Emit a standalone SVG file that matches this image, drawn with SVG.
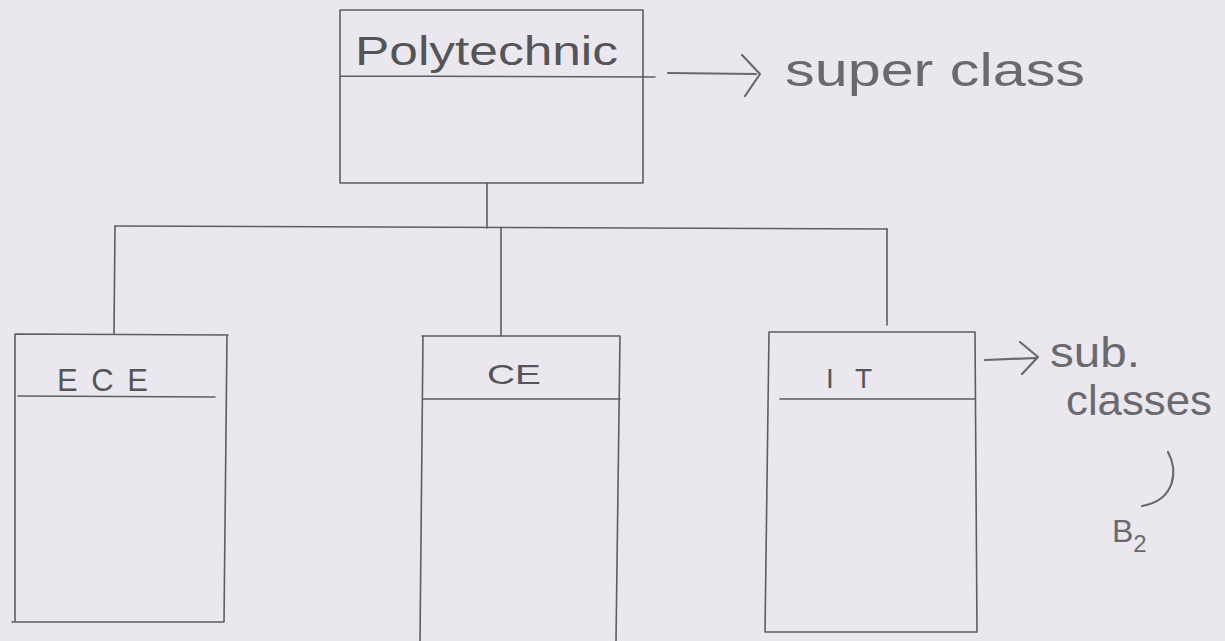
<svg xmlns="http://www.w3.org/2000/svg" width="1225" height="641" viewBox="0 0 1225 641">
<style>
.pen{fill:none;stroke:#5e5e62;stroke-width:1.6;stroke-linecap:round;stroke-linejoin:round}
.ink{fill:none;stroke:#6a6a6e;stroke-width:2.2;stroke-linecap:round;stroke-linejoin:round}
.lbl{font-family:"Liberation Sans",Arial,sans-serif;fill:#555558}
.note{font-family:"Liberation Sans",Arial,sans-serif;fill:#6a6a6e}
</style>
<rect width="1225" height="641" fill="#ebe7ef"/>
<g id="connectors">
<path class="pen" d="M487 183 L487 228"/>
<path class="pen" d="M115 226 L887 229"/>
<path class="pen" d="M115 226 L114 334"/>
<path class="pen" d="M501 228 L501 336"/>
<path class="pen" d="M887 229 L887 325"/>
</g>
<g id="node-polytechnic">
<path class="pen" d="M340 10 L643 10 M340 10 L340 183 M643 10 L643 183 M340 183 L643 183 M340 76 L655 77"/>
<text class="lbl" x="355" y="65" font-size="40" textLength="263" lengthAdjust="spacingAndGlyphs">Polytechnic</text>
</g>
<g id="node-ece">
<path class="pen" d="M15 334 L228 335 M15 334 L15 622 M227 335 L224 622 M12 622 L224 622 M18 396 L215 397"/>
<text class="lbl" x="57" y="391" font-size="31" textLength="91" lengthAdjust="spacing">ECE</text>
</g>
<g id="node-ce">
<path class="pen" d="M422 336 L620 336 M423 336 L420 641 M620 336 L616 641 M423 399 L620 399"/>
<text class="lbl" x="487" y="384" font-size="28" textLength="54" lengthAdjust="spacingAndGlyphs">CE</text>
</g>
<g id="node-it">
<path class="pen" d="M769 332 L975 332 M769 332 L765 632 M975 332 L977 632 M765 632 L977 632 M780 399 L975 399"/>
<text class="lbl" x="826" y="388" font-size="28" textLength="46" lengthAdjust="spacing">IT</text>
</g>
<g id="annotation-super">
<path class="ink" d="M668 73 L756 74 M742 55 L760 74 L745 96"/>
<text class="note" x="785" y="86" font-size="46" textLength="300" lengthAdjust="spacingAndGlyphs">super class</text>
</g>
<g id="annotation-sub">
<path class="ink" d="M985 360 L1036 358 M1020 342 L1038 357 L1022 374"/>
<text class="note" x="1050" y="367" font-size="42" textLength="90" lengthAdjust="spacingAndGlyphs">sub.</text>
<text class="note" x="1066" y="415" font-size="42" textLength="146" lengthAdjust="spacingAndGlyphs">classes</text>
<path class="ink" d="M1168 452 C1178 470 1176 500 1142 506"/>
<text class="note" x="1112" y="542" font-size="32">B<tspan font-size="24" dy="10">2</tspan></text>
</g>
</svg>
